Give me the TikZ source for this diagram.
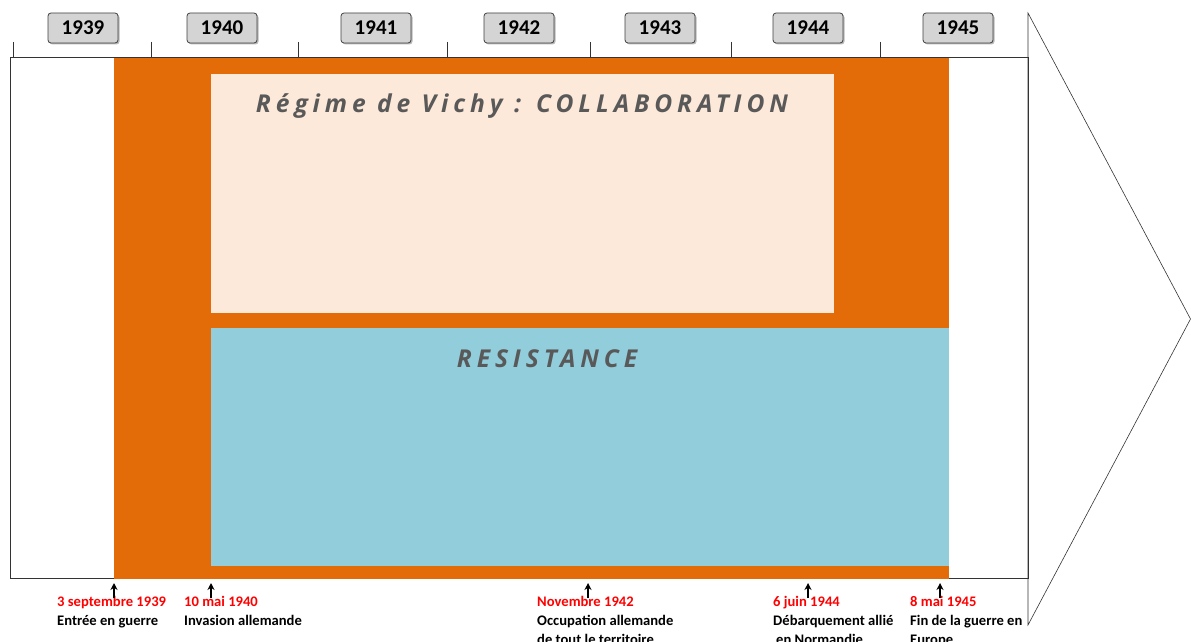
\documentclass[tikz,border=0pt]{standalone}
\usepackage{fontspec}
\setmainfont{Carlito}
\newfontfamily\bandfont[LetterSpace=20]{Open Sans}
\usetikzlibrary{shadows,arrows.meta}

\definecolor{warorange}{HTML}{E36C09}
\definecolor{vichypale}{HTML}{FDE9D9}
\definecolor{resblue}{HTML}{92CDDC}
\definecolor{bandgray}{HTML}{595959}
\definecolor{datered}{HTML}{FF0000}

\begin{document}
\begin{tikzpicture}[x=1pt,y=-1pt,
		year node/.style={rectangle,rounded corners=3pt,draw=black!75,fill=black!17,thick,
			minimum width=70pt,minimum height=30pt,inner sep=0pt,
			font=\bfseries\fontsize{21}{21}\selectfont,
			drop shadow={shadow xshift=1.5pt,shadow yshift=-1.5pt,fill=black!55}},
		event node/.style={anchor=north west,align=left,inner sep=0pt,
			font=\bfseries\fontsize{14.6}{19}\selectfont},
		band title/.style={anchor=base,inner sep=0pt,text=bandgray,
			font=\bandfont\bfseries\itshape\fontsize{24.6}{24.6}\selectfont},
		event arrow/.style={-{Stealth[length=7pt,width=7pt]},line width=1.2pt}]
		
		\useasboundingbox (0,0) rectangle (1191,642);
		
		% frame and bands
		\draw[black!80,semithick,fill=white] (10,57) rectangle (1028,578);
		\fill[warorange] (114,58) rectangle (949,579);
		\fill[vichypale] (211,74) rectangle (834,313);
		\fill[resblue] (211,328) rectangle (949,566);
		\draw[black!80,semithick] (1028,13) -- (1190.5,319) -- (1028,625) -- cycle;
		
		\node[band title] (vichy) at (522,112) {Régime de Vichy : COLLABORATION};
		\node[band title] (resist) at (547,367) {RESISTANCE};
		
		% years
		\foreach \x in {13,151,298,447,590,731,880}
			\draw[black!80,semithick] (\x,42) -- (\x,57);
		\foreach \x/\yr in {83/1939,222/1940,376/1941,519/1942,660/1943,808/1944,958/1945}
			\node[year node] (y\yr) at (\x,28) {\yr};
		
		% events
		\node[event node] (e1) at (57,596) {\textcolor{datered}{3 septembre 1939}\\Entrée en guerre};
		\node[event node] (e2) at (184,596) {\textcolor{datered}{10 mai 1940}\\Invasion allemande};
		\node[event node] (e3) at (537,596) {\textcolor{datered}{Novembre 1942}\\Occupation allemande\\de tout le territoire};
		\node[event node] (e4) at (773,596) {\textcolor{datered}{6 juin 1944}\\Débarquement allié\\\hspace{3pt}en Normandie};
		\node[event node] (e5) at (910,596) {\textcolor{datered}{8 mai 1945}\\Fin de la guerre en\\Europe};
		
		\foreach \x [count=\i] in {114,211,588,808,940} {
			\coordinate (a\i) at (\x,598);
			\coordinate (b\i) at (\x,583);
			\draw[event arrow] (a\i) -- (b\i);
		}
		
\end{tikzpicture}
\end{document}
